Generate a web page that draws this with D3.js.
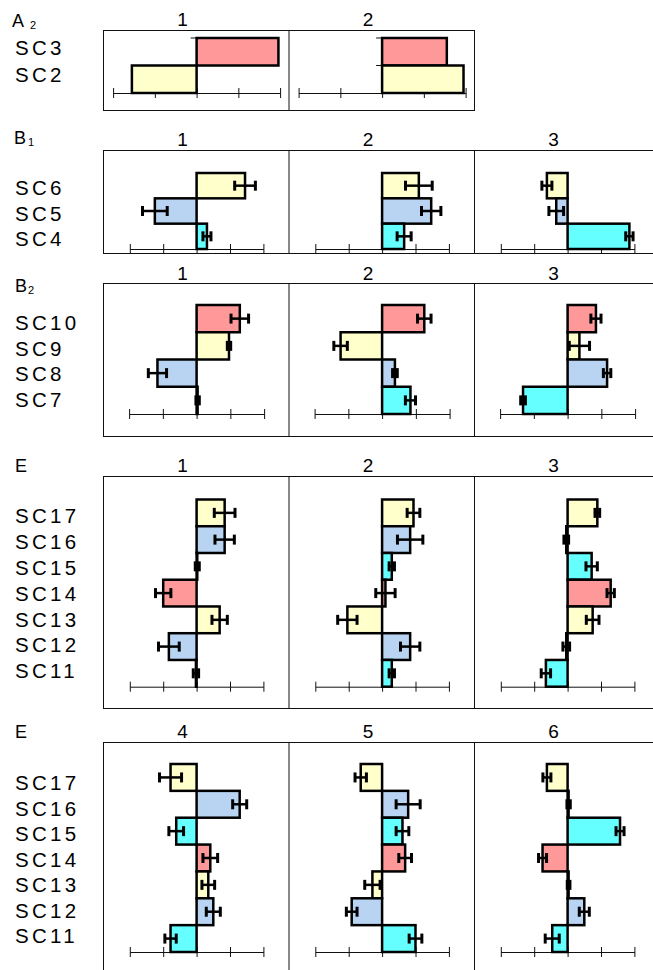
<!DOCTYPE html>
<html>
  <head>
    <meta charset="utf-8">
    <title>SC bar panels</title>
    <script src="https://cdn.jsdelivr.net/npm/d3@7"></script>
    <style>
      body { margin: 0; background: white; }
      text { font-family: "Liberation Sans", Arial, sans-serif; fill: black; }
    </style>
  </head>
  <body>
    <svg id="chart" width="653" height="970"></svg>
    <script>
      // ---- data ----
      var rowsA2 = ["SC3", "SC2"];
      var colsA2 = ["1", "2"];
      var valsA2 = [[1.96, -1.55], [1.55, 1.95]];

      var rowsB1 = ["SC6", "SC5", "SC4"];
      var colsB1 = ["1", "2", "3"];
      var valsB1 = [[1.45, -1.25, 0.31], [1.1, 1.47, 0.66], [-0.62, -0.34, 1.85]];
      var errsB1 = [[0.31, 0.37, 0.12], [0.4, 0.29, 0.21], [0.15, 0.22, 0.11]];

      var rowsB2 = ["SC10", "SC9", "SC8", "SC7"];
      var colsB2 = ["1", "2", "3"];
      var valsB2 = [[1.28, 0.96, -1.16, 0.03], [1.25, -1.23, 0.38, 0.84], [0.84, 0.35, 1.17, -1.32]];
      var errsB2 = [[0.26, 0.05, 0.27, 0.05], [0.2, 0.2, 0.07, 0.15], [0.15, 0.3, 0.11, 0.07]];

      var rowsE = ["SC17", "SC16", "SC15", "SC14", "SC13", "SC12", "SC11"];
      var colsE1 = ["1", "2", "3"];
      var valsE1 = [[0.84, 0.84, 0.02, -1.0, 0.69, -0.83, -0.02],
                    [0.94, 0.84, 0.29, 0.1, -1.04, 0.84, 0.29],
                    [0.89, -0.04, 0.72, 1.29, 0.75, -0.04, -0.65]];
      var errsE1 = [[0.31, 0.29, 0.06, 0.23, 0.23, 0.31, 0.08],
                    [0.19, 0.38, 0.08, 0.29, 0.29, 0.29, 0.08],
                    [0.07, 0.07, 0.17, 0.11, 0.19, 0.1, 0.14]];

      var colsE2 = ["4", "5", "6"];
      var valsE2 = [[-0.78, 1.29, -0.61, 0.41, 0.35, 0.5, -0.78],
                    [-0.64, 0.78, 0.61, 0.69, -0.29, -0.91, 1.0],
                    [-0.62, 0.03, 1.57, -0.75, 0.03, 0.5, -0.46]];
      var errsE2 = [[0.33, 0.21, 0.22, 0.22, 0.19, 0.21, 0.17],
                    [0.17, 0.36, 0.19, 0.19, 0.23, 0.16, 0.19],
                    [0.12, 0.05, 0.12, 0.12, 0.04, 0.15, 0.21]];

      var tickVals = [-2, -1, 0, 1, 2];

      // fill colour per row
      var PINK = "#ff9999", YELLOW = "#ffffcc", BLUE = "#b8d4f2", CYAN = "#66ffff";
      var rowColor = {
        SC3: PINK, SC2: YELLOW,
        SC6: YELLOW, SC5: BLUE, SC4: CYAN,
        SC10: PINK, SC9: YELLOW, SC8: BLUE, SC7: CYAN,
        SC17: YELLOW, SC16: BLUE, SC15: CYAN, SC14: PINK, SC13: YELLOW, SC12: BLUE, SC11: CYAN
      };

      // layout of each block (positions only)
      var groups = [
        { title: "A", sub: "2", subDx: 6, titleX: 12, titleY: 27, headY: 26, top: 30, bottom: 110,
          barTop: 38, axisY: 93, half: 83.5, labY: 55, labStep: 27,
          rows: rowsA2, cols: colsA2, vals: valsA2, errs: null, zeroTicks: true },
        { title: "B", sub: "1", subDx: 2, titleX: 14, titleY: 144, headY: 146, top: 150, bottom: 253,
          barTop: 173, axisY: 249, half: 66.8, labY: 195, labStep: 25.5,
          rows: rowsB1, cols: colsB1, vals: valsB1, errs: errsB1 },
        { title: "B", sub: "2", subDx: 1, titleX: 15, titleY: 292, headY: 280, top: 283, bottom: 436,
          barTop: 305, axisY: 414, half: 67.5, labY: 330, labStep: 25.7,
          rows: rowsB2, cols: colsB2, vals: valsB2, errs: errsB2 },
        { title: "E", sub: "", titleX: 15, titleY: 472, headY: 472, top: 476, bottom: 708,
          barTop: 499.5, axisY: 686.7, half: 66.8, labY: 523.3, labStep: 25.8,
          rows: rowsE, cols: colsE1, vals: valsE1, errs: errsE1 },
        { title: "E", sub: "", titleX: 15, titleY: 738, headY: 738, top: 742, bottom: 980,
          barTop: 764, axisY: 952, half: 66.8, labY: 790, labStep: 25.55,
          rows: rowsE, cols: colsE2, vals: valsE2, errs: errsE2 }
      ];

      var cellLeft = 103, cellW = 185.5, zeroOff = 93.6;

      var svg = d3.select("#chart");

      groups.forEach(function(g) {
        var blk = svg.append("g");

        // block title with subscript
        var t = blk.append("text")
            .attr("x", g.titleX).attr("y", g.titleY)
            .style("font-size", "18px")
            .text(g.title);
        if (g.sub) {
          t.append("tspan")
              .attr("dx", g.subDx).attr("dy", 2)
              .style("font-size", "11px")
              .text(g.sub);
        }

        // row labels
        blk.selectAll("text.row")
          .data(g.rows)
          .enter().append("text")
            .attr("class", "row")
            .attr("x", 15)
            .attr("y", function(d, i) { return g.labY + i * g.labStep; })
            .style("font-size", "20.5px")
            .style("letter-spacing", "3.3px")
            .text(function(d) { return d; });

        // outer box
        var boxRight = cellLeft + cellW * g.cols.length;
        blk.append("rect")
            .attr("x", cellLeft + 0.5).attr("y", g.top + 0.5)
            .attr("width", boxRight - cellLeft).attr("height", g.bottom - g.top)
            .attr("fill", "none").attr("stroke", "#111").attr("stroke-width", 1);

        var y = d3.scaleBand().domain(g.rows).range([g.barTop, g.axisY]);

        g.cols.forEach(function(c, ci) {
          var left = cellLeft + ci * cellW;
          var zero = left + zeroOff;
          var x = d3.scaleLinear().domain([-2, 2]).range([zero - g.half, zero + g.half]);
          var cell = blk.append("g");

          if (ci > 0) {
            cell.append("line")
                .attr("x1", left + 0.5).attr("x2", left + 0.5)
                .attr("y1", g.top).attr("y2", g.bottom)
                .attr("stroke", "#111").attr("stroke-width", 1);
          }

          cell.append("text")
              .attr("x", zero - 14).attr("y", g.headY)
              .attr("text-anchor", "middle")
              .style("font-size", "19px")
              .text(c);

          // axis with ticks crossing the line
          cell.append("g")
              .attr("transform", "translate(0," + g.axisY + ")")
              .call(d3.axisBottom(x).tickValues(tickVals).tickSizeOuter(0).tickFormat(""))
              .call(function(a) {
                a.select(".domain").attr("stroke", "#111");
                a.selectAll(".tick line").attr("y1", -5).attr("y2", 5).attr("stroke", "#111");
              });

          var rowsData = g.rows.map(function(r, ri) {
            return { row: r, v: g.vals[ci][ri], e: g.errs ? g.errs[ci][ri] : 0 };
          });

          if (g.zeroTicks) {
            cell.selectAll("line.zt")
              .data(rowsData)
              .enter().append("line")
                .attr("x1", zero - 6).attr("x2", zero)
                .attr("y1", function(d) { return y(d.row); })
                .attr("y2", function(d) { return y(d.row); })
                .attr("stroke", "#111");
          }

          cell.selectAll("rect.bar")
            .data(rowsData)
            .enter().append("rect")
              .attr("class", "bar")
              .attr("x", function(d) { return Math.min(x(0), x(d.v)); })
              .attr("y", function(d) { return y(d.row); })
              .attr("width", function(d) { return Math.abs(x(d.v) - x(0)); })
              .attr("height", y.bandwidth())
              .attr("fill", function(d) { return rowColor[d.row]; })
              .attr("stroke", "black")
              .attr("stroke-width", 2.5);

          if (g.errs) {
            var eb = cell.selectAll("g.err")
              .data(rowsData)
              .enter().append("g")
                .attr("transform", function(d) {
                  return "translate(0," + (y(d.row) + y.bandwidth() / 2) + ")";
                });
            eb.append("line")
                .attr("x1", function(d) { return x(d.v - d.e); })
                .attr("x2", function(d) { return x(d.v + d.e); })
                .attr("stroke", "black").attr("stroke-width", 2.5);
            eb.append("line")
                .attr("x1", function(d) { return x(d.v - d.e); })
                .attr("x2", function(d) { return x(d.v - d.e); })
                .attr("y1", -5).attr("y2", 5)
                .attr("stroke", "black").attr("stroke-width", 3);
            eb.append("line")
                .attr("x1", function(d) { return x(d.v + d.e); })
                .attr("x2", function(d) { return x(d.v + d.e); })
                .attr("y1", -5).attr("y2", 5)
                .attr("stroke", "black").attr("stroke-width", 3);
          }
        });
      });
    </script>
  </body>
</html>
